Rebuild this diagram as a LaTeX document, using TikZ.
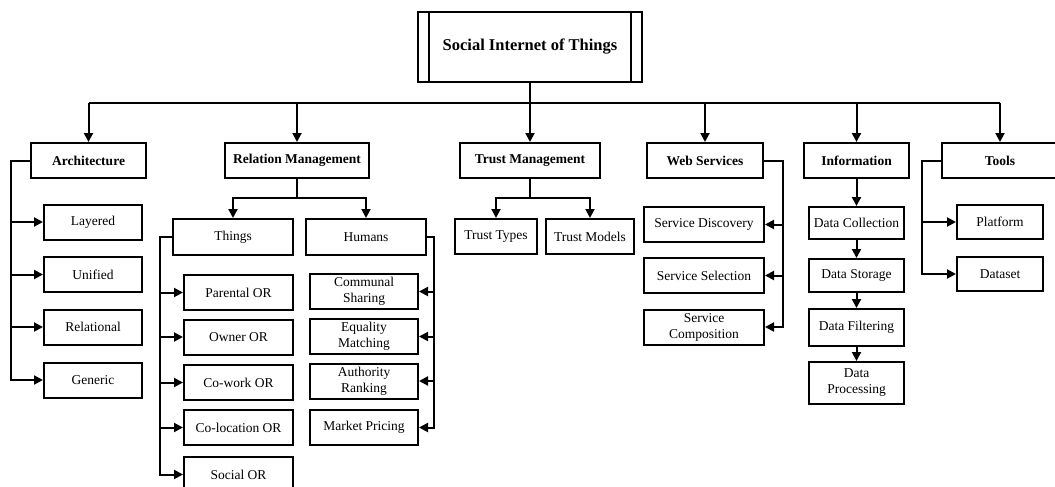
\documentclass[tikz,border=0pt]{standalone}
\usepackage{fontspec}
\setmainfont{Liberation Serif}
\usetikzlibrary{arrows.meta}
\begin{document}
\begin{tikzpicture}
		[x=1pt,y=-1pt,
		box/.style={rectangle,draw,line width=2pt,inner sep=1pt,align=center,
			font=\fontsize{13.5}{16}\selectfont,minimum height=35pt},
		head/.style={box,font=\fontsize{13.5}{16}\selectfont\bfseries},
		link/.style={->,line width=2pt},
		>={Triangle[length=9pt,width=9pt]}]
		\useasboundingbox (0,0) rectangle (1055,487);
		\clip (0,0) rectangle (1055,487);
		% root
		\node[box,name=root,minimum width=224pt,minimum height=70pt,
			font=\fontsize{16.5}{19}\selectfont\bfseries]at(530,47){Social Internet of Things};
		\draw[line width=2pt] ([xshift=12pt]root.north west)--([xshift=12pt]root.south west);
		\draw[line width=2pt] ([xshift=-12pt]root.north east)--([xshift=-12pt]root.south east);
		% first level
		\node[head,name=arch,minimum width=115pt]at(88.5,160.5){Architecture};
		\node[head,name=relm,minimum width=144pt]at(297,160.5){Relation Management};
		\node[head,name=trust,minimum width=140pt]at(530,160.5){Trust Management};
		\node[head,name=web,minimum width=116pt]at(705,160.5){Web Services};
		\node[head,name=info,minimum width=105pt]at(856.5,160.5){Information};
		\node[head,name=tools,minimum width=116pt]at(1000,160.5){Tools};
		\draw[line width=2pt] (root.south)--(530,103);
		\draw[line width=2pt] (88.5,103)--(1000,103);
		\foreach \n/\x in {arch/88.5,relm/297,trust/530,web/705,info/856.5,tools/1000}
			\draw[link] (\x,103)--(\n.north);
		% architecture
		\node[box,name=lay,minimum width=98pt]at(93,222){Layered};
		\node[box,name=uni,minimum width=98pt]at(93,274.5){Unified};
		\node[box,name=rel,minimum width=98pt]at(93,327){Relational};
		\node[box,name=gen,minimum width=98pt]at(93,380){Generic};
		\foreach \n in {lay,uni,rel,gen}
			\draw[link] (arch.west)--++(-19,0)|-(\n.west);
		% relation management
		\node[box,name=things,minimum width=120pt,minimum height=36pt]at(233,237){Things};
		\node[box,name=humans,minimum width=120pt,minimum height=36pt]at(366,237){Humans};
		\draw[line width=2pt] (relm.south)--(297,198);
		\draw[link] (297,198)-|(things.north);
		\draw[link] (297,198)-|(humans.north);
		\node[box,name=par,minimum width=109pt]at(238.5,292.5){Parental OR};
		\node[box,name=own,minimum width=109pt]at(238.5,337){Owner OR};
		\node[box,name=cow,minimum width=109pt]at(238.5,382.5){Co-work OR};
		\node[box,name=col,minimum width=109pt]at(238.5,427.5){Co-location OR};
		\node[box,name=soc,minimum width=109pt]at(238.5,474.5){Social OR};
		\foreach \n in {par,own,cow,col,soc}
			\draw[link] (things.west)--++(-12,0)|-(\n.west);
		\node[box,name=comm,minimum width=108pt]at(364,291.5){Communal\\Sharing};
		\node[box,name=equ,minimum width=108pt]at(364,336.5){Equality\\Matching};
		\node[box,name=auth,minimum width=108pt]at(364,381){Authority\\Ranking};
		\node[box,name=mark,minimum width=108pt]at(364,427.5){Market Pricing};
		\foreach \n in {comm,equ,auth,mark}
			\draw[link] (humans.east)--++(7,0)|-(\n.east);
		% trust management
		\node[box,name=ttypes,minimum width=82pt]at(496,236.5){Trust Types};
		\node[box,name=tmodels,minimum width=88pt]at(590,236.5){Trust Models};
		\draw[line width=2pt] (trust.south)--(530,198);
		\draw[link] (530,198)-|(ttypes.north);
		\draw[link] (530,198)-|(tmodels.north);
		% web services
		\node[box,name=disc,minimum width=120pt]at(704,224.5){Service Discovery};
		\node[box,name=sel,minimum width=120pt]at(704,275.5){Service Selection};
		\node[box,name=comp,minimum width=120pt]at(704,327){Service\\Composition};
		\foreach \n in {disc,sel,comp}
			\draw[link] (web.east)--++(19,0)|-(\n.east);
		% information
		\node[box,name=coll,minimum width=95pt,minimum height=32pt]at(856.5,223){Data Collection};
		\node[box,name=stor,minimum width=95pt,minimum height=33pt]at(856.5,275.5){Data Storage};
		\node[box,name=filt,minimum width=95pt,minimum height=37pt]at(856.5,327.5){Data Filtering};
		\node[box,name=proc,minimum width=95pt,minimum height=42pt]at(856.5,383){Data\\Processing};
		\draw[link] (info)--(coll);
		\draw[link] (coll)--(stor);
		\draw[link] (stor)--(filt);
		\draw[link] (filt)--(proc);
		% tools
		\node[box,name=plat,minimum width=86pt,minimum height=34pt]at(1000,222){Platform};
		\node[box,name=data,minimum width=86pt,minimum height=34pt]at(1000,274){Dataset};
		\foreach \n in {plat,data}
			\draw[link] (tools.west)--++(-19,0)|-(\n.west);
	\end{tikzpicture}
\end{document}
